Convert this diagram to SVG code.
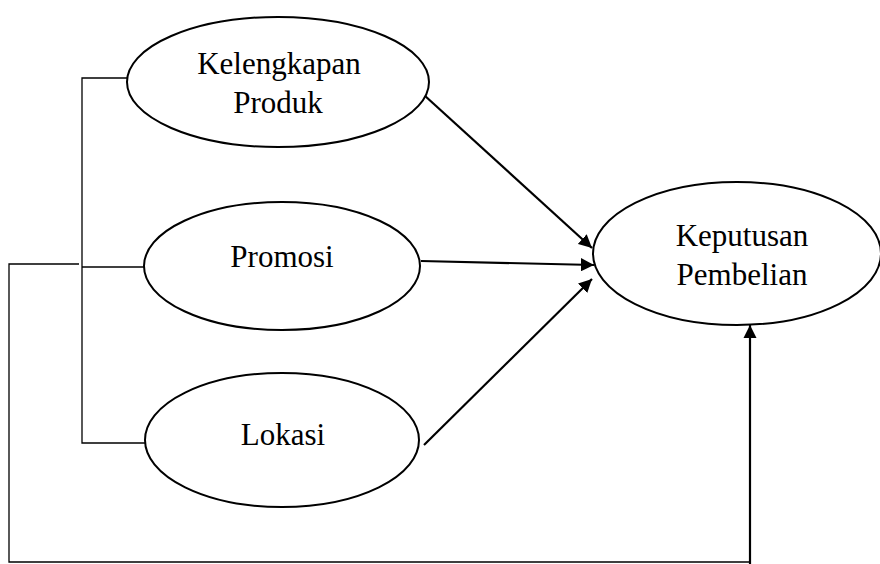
<svg xmlns="http://www.w3.org/2000/svg" width="880" height="564" viewBox="0 0 880 564">
<style>
.node{fill:#fff;stroke:#000;stroke-width:2}
.lbl{font-family:"Liberation Serif","Times New Roman",serif;font-size:31px;fill:#000;text-anchor:middle}
.thin{fill:none;stroke:#000;stroke-width:1.3}
.arr{fill:none;stroke:#000;stroke-width:2.2;marker-end:url(#ah)}
</style>
<defs>
<marker id="ah" viewBox="0 0 10 10" refX="10" refY="5" markerWidth="6" markerHeight="6" markerUnits="strokeWidth" orient="auto">
<path d="M0,0 L10,5 L0,10 z" fill="#000"/>
</marker>
</defs>
<rect width="880" height="564" fill="#fff"/>
<g id="connectors">
<polyline class="thin" points="127,78 82,78 82,443 145,443"/>
<line class="thin" x1="82" y1="267" x2="144" y2="267"/>
<polyline class="thin" points="79,264 9,264 9,562 749,562"/>
<line class="arr" x1="750" y1="564" x2="750" y2="325"/>
<line class="arr" x1="424" y1="95" x2="592" y2="248"/>
<line class="arr" x1="421" y1="261" x2="594" y2="265"/>
<line class="arr" x1="424" y1="445" x2="592" y2="279"/>
</g>
<g id="n1">
<ellipse class="node" cx="278" cy="82" rx="151" ry="65"/>
<text class="lbl" x="279" y="74">Kelengkapan</text>
<text class="lbl" x="278" y="113">Produk</text>
</g>
<g id="n2">
<ellipse class="node" cx="282" cy="266" rx="138" ry="64"/>
<text class="lbl" x="282" y="267">Promosi</text>
</g>
<g id="n3">
<ellipse class="node" cx="282" cy="440" rx="137" ry="67"/>
<text class="lbl" x="283" y="445">Lokasi</text>
</g>
<g id="n4">
<ellipse class="node" cx="737" cy="253.5" rx="144" ry="71.5"/>
<text class="lbl" x="742" y="246">Keputusan</text>
<text class="lbl" x="742" y="285">Pembelian</text>
</g>
</svg>
